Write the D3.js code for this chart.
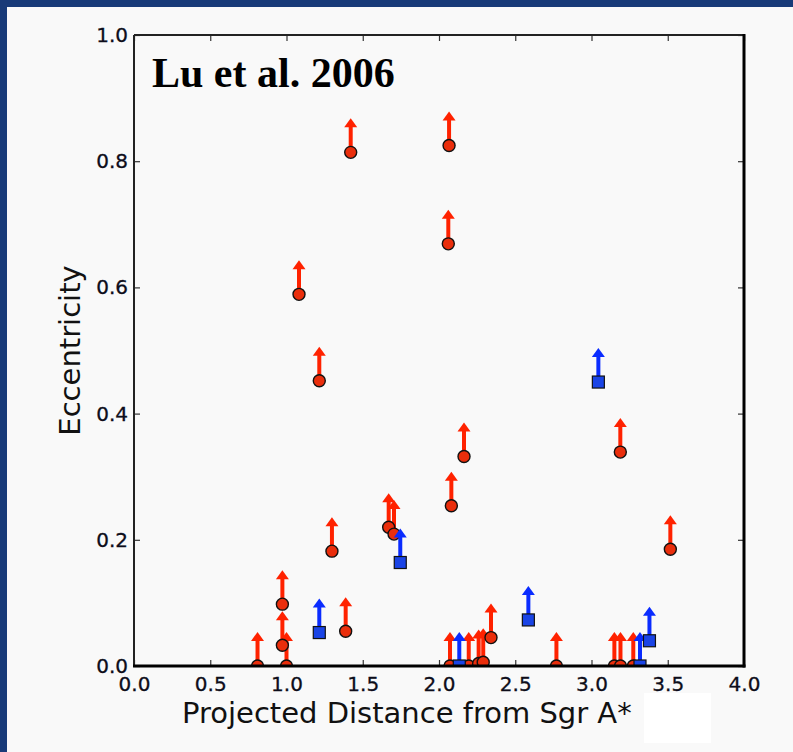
<!DOCTYPE html>
<html>
<head>
<meta charset="utf-8">
<script src="https://cdn.jsdelivr.net/npm/d3@7"></script>
<style>
  html, body { margin: 0; padding: 0; background: #f9f9f9; }
  svg { display: block; }
</style>
</head>
<body>
<svg id="chart" width="793" height="752"></svg>
<script>
// Projected distance (x) and eccentricity lower limits (y)
const redX = [1.421, 2.066, 2.061, 1.082, 1.215, 3.189, 2.164, 2.081, 1.670, 1.705,
              1.298, 3.517, 0.973, 1.388, 0.973, 2.341, 0.81, 1.00, 2.072, 2.195,
              2.26, 2.29, 2.77, 3.15, 3.19, 3.274];
const redY = [0.814, 0.825, 0.669, 0.589, 0.452, 0.339, 0.332, 0.254, 0.220, 0.209,
              0.182, 0.185, 0.098, 0.055, 0.033, 0.045, 0.0, 0.0, 0.0, 0.0,
              0.004, 0.006, 0.0, 0.0, 0.0, 0.0];
const blueX = [3.045, 1.746, 1.215, 2.586, 3.38, 2.133, 3.318];
const blueY = [0.450, 0.164, 0.053, 0.073, 0.040, 0.0, 0.0];

const xTicks = [0, 0.5, 1.0, 1.5, 2.0, 2.5, 3.0, 3.5, 4.0];
const xTickLabels = ["0.0", "0.5", "1.0", "1.5", "2.0", "2.5", "3.0", "3.5", "4.0"];
const yTicks = [0, 0.2, 0.4, 0.6, 0.8, 1.0];
const yTickLabels = ["0.0", "0.2", "0.4", "0.6", "0.8", "1.0"];

const svg = d3.select("#chart");
const W = 793, H = 752;
const L = 134, R = 744, T = 35, B = 666;

const x = d3.scaleLinear().domain([0, 4]).range([L, R]);
const y = d3.scaleLinear().domain([0, 1]).range([B, T]);

// page background and dark blue frame band
svg.append("rect").attr("width", W).attr("height", H).attr("fill", "#f9f9f9");
svg.append("rect").attr("x", 0).attr("y", 0).attr("width", W).attr("height", 7).attr("fill", "#183a78");
svg.append("rect").attr("x", 0).attr("y", 0).attr("width", 7).attr("height", H).attr("fill", "#183a78");

svg.append("clipPath").attr("id", "plotclip")
  .append("rect").attr("x", L).attr("y", T).attr("width", R - L).attr("height", B - T);

const tickFont = "'DejaVu Sans', sans-serif";

// axes with inward ticks
const gx = svg.append("g").attr("transform", `translate(0,${B})`)
  .call(d3.axisBottom(x).tickValues(xTicks).tickSizeInner(-6).tickSizeOuter(0).tickPadding(11)
        .tickFormat((d, i) => xTickLabels[i]));
const gy = svg.append("g").attr("transform", `translate(${L},0)`)
  .call(d3.axisLeft(y).tickValues(yTicks).tickSizeInner(-6).tickSizeOuter(0).tickPadding(6)
        .tickFormat((d, i) => yTickLabels[i]));
const gt = svg.append("g").attr("transform", `translate(0,${T})`)
  .call(d3.axisTop(x).tickValues(xTicks).tickSizeInner(-6).tickSizeOuter(0).tickFormat(""));
const gr = svg.append("g").attr("transform", `translate(${R},0)`)
  .call(d3.axisRight(y).tickValues(yTicks).tickSizeInner(-6).tickSizeOuter(0).tickFormat(""));

[gx, gy, gt, gr].forEach(g => {
  g.select(".domain").remove();
  g.selectAll(".tick line").attr("stroke", "#333").attr("stroke-width", 1.2);
  g.selectAll(".tick text").attr("fill", "#0d0d1a").attr("font-family", tickFont).attr("font-size", 20)
    .attr("stroke", "#0d0d1a").attr("stroke-width", 0.3);
});

// data layer
const plot = svg.append("g").attr("clip-path", "url(#plotclip)");
const arrowLen = 34, headW = 13, headH = 9;

function drawSeries(xs, ys, color, fill, shape) {
  const pts = xs.map((v, i) => ({ x: v, y: ys[i] }));
  const g = plot.append("g");
  // lower-limit arrows
  g.selectAll("line.stem").data(pts).join("line")
    .attr("x1", d => x(d.x)).attr("x2", d => x(d.x))
    .attr("y1", d => y(d.y)).attr("y2", d => y(d.y) - arrowLen + headH - 1)
    .attr("stroke", color).attr("stroke-width", 4);
  g.selectAll("path.head").data(pts).join("path")
    .attr("d", d => {
      const cx = x(d.x), ty = y(d.y) - arrowLen;
      return `M${cx},${ty} L${cx + headW / 2},${ty + headH} L${cx - headW / 2},${ty + headH} Z`;
    })
    .attr("fill", color);
  // markers
  if (shape === "circle") {
    g.selectAll("circle").data(pts).join("circle")
      .attr("cx", d => x(d.x)).attr("cy", d => y(d.y)).attr("r", 6)
      .attr("fill", fill).attr("stroke", "#111").attr("stroke-width", 1.4);
  } else {
    g.selectAll("rect").data(pts).join("rect")
      .attr("x", d => x(d.x) - 6).attr("y", d => y(d.y) - 6)
      .attr("width", 12).attr("height", 12)
      .attr("fill", fill).attr("stroke", "#111").attr("stroke-width", 1.2);
  }
}

drawSeries(redX, redY, "#ff2200", "#ea2e0c", "circle");
drawSeries(blueX, blueY, "#0a2cff", "#1a44e6", "square");

// plot frame
svg.append("line").attr("x1", L).attr("x2", R).attr("y1", T).attr("y2", T).attr("stroke", "#222").attr("stroke-width", 2);
svg.append("line").attr("x1", L).attr("x2", L).attr("y1", T).attr("y2", B).attr("stroke", "#222").attr("stroke-width", 2);
svg.append("line").attr("x1", R).attr("x2", R).attr("y1", T - 1).attr("y2", B + 1.5).attr("stroke", "#000").attr("stroke-width", 3);
svg.append("line").attr("x1", L - 1).attr("x2", R + 1.5).attr("y1", B).attr("y2", B).attr("stroke", "#000").attr("stroke-width", 3);

// inset label
svg.append("text").attr("x", 152).attr("y", 87)
  .attr("font-family", "'Liberation Serif', 'Times New Roman', serif")
  .attr("font-weight", "bold").attr("font-size", 42).attr("fill", "#000")
  .text("Lu et al. 2006");

// axis titles
svg.append("text").attr("x", 182).attr("y", 723)
  .attr("font-family", tickFont).attr("font-size", 29).attr("fill", "#111")
  .text("Projected Distance from Sgr A*");
svg.append("text").attr("transform", `translate(80,${(T + B) / 2}) rotate(-90)`)
  .attr("text-anchor", "middle")
  .attr("font-family", tickFont).attr("font-size", 29).attr("fill", "#111")
  .text("Eccentricity");

// blank patch below the axis
svg.append("rect").attr("x", 644).attr("y", 693).attr("width", 67).attr("height", 50).attr("fill", "#ffffff");
</script>
</body>
</html>
